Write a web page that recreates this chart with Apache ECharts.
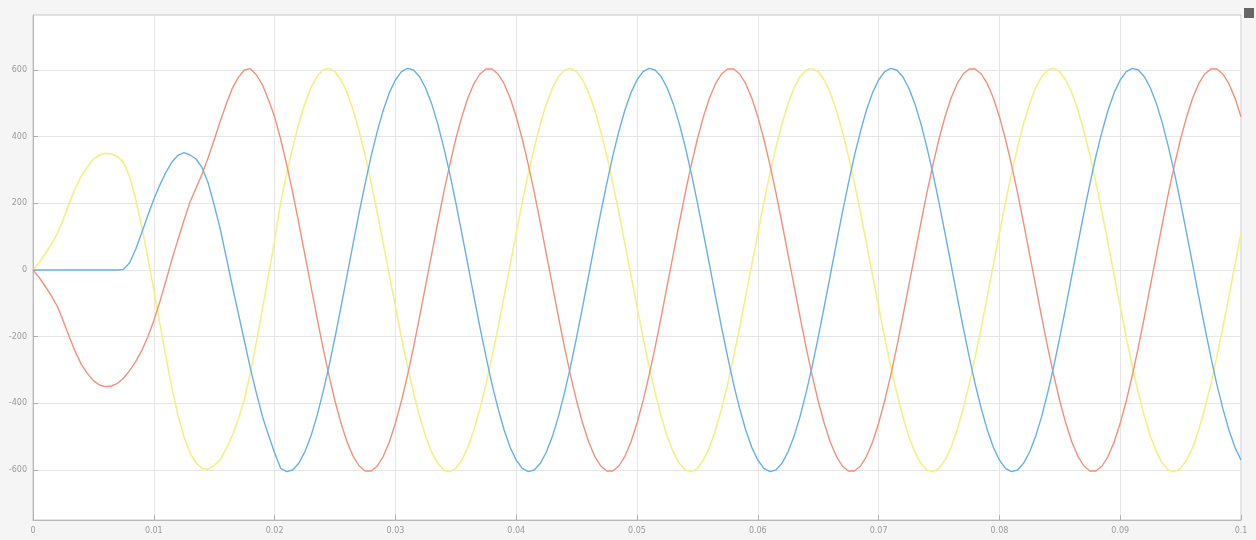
<!DOCTYPE html>
<html>
<head>
<meta charset="utf-8">
<script src="https://cdn.jsdelivr.net/npm/echarts@6/dist/echarts.min.js"></script>
<style>
html,body{margin:0;padding:0;background:#f5f5f5;}
#chart{width:1256px;height:540px;}
</style>
</head>
<body>
<div id="chart"></div>
<script>
const time = [0,0.0005,0.001,0.0015,0.002,0.0025,0.003,0.0035,0.004,0.0045,0.005,0.0055,0.006,0.0065,0.007,0.0075,0.008,0.0085,0.009,0.0095,
0.01,0.0105,0.011,0.0115,0.012,0.0125,0.013,0.0135,0.014,0.0145,0.015,0.0155,0.016,0.0165,0.017,0.0175,0.018,0.0185,0.019,0.0195,
0.02,0.0205,0.021,0.0215,0.022,0.0225,0.023,0.0235,0.024,0.0245,0.025,0.0255,0.026,0.0265,0.027,0.0275,0.028,0.0285,0.029,0.0295,
0.03,0.0305,0.031,0.0315,0.032,0.0325,0.033,0.0335,0.034,0.0345,0.035,0.0355,0.036,0.0365,0.037,0.0375,0.038,0.0385,0.039,0.0395,
0.04,0.0405,0.041,0.0415,0.042,0.0425,0.043,0.0435,0.044,0.0445,0.045,0.0455,0.046,0.0465,0.047,0.0475,0.048,0.0485,0.049,0.0495,
0.05,0.0505,0.051,0.0515,0.052,0.0525,0.053,0.0535,0.054,0.0545,0.055,0.0555,0.056,0.0565,0.057,0.0575,0.058,0.0585,0.059,0.0595,
0.06,0.0605,0.061,0.0615,0.062,0.0625,0.063,0.0635,0.064,0.0645,0.065,0.0655,0.066,0.0665,0.067,0.0675,0.068,0.0685,0.069,0.0695,
0.07,0.0705,0.071,0.0715,0.072,0.0725,0.073,0.0735,0.074,0.0745,0.075,0.0755,0.076,0.0765,0.077,0.0775,0.078,0.0785,0.079,0.0795,
0.08,0.0805,0.081,0.0815,0.082,0.0825,0.083,0.0835,0.084,0.0845,0.085,0.0855,0.086,0.0865,0.087,0.0875,0.088,0.0885,0.089,0.0895,
0.09,0.0905,0.091,0.0915,0.092,0.0925,0.093,0.0935,0.094,0.0945,0.095,0.0955,0.096,0.0965,0.097,0.0975,0.098,0.0985,0.099,0.0995,0.1];

const phaseYellow = [0,22,48,76,108,152,200,245,283,310,332,345,350,348,340,322,280,213,130,38,
-60,-160,-260,-355,-435,-501,-549,-579,-595,-598,-586,-569,-536,-497,-448,-387,-308,-215,-115,-14,88,
202,289,368,439,499,546,580,600,605,595,570,532,480,416,343,260,172,79,-16,-110,-202,-289,-368,-439,-499,-546,-580,-600,-605,-595,-570,-532,-480,-416,-343,-260,-172,-79,16,110,
202,289,368,439,499,546,580,600,605,595,570,532,480,416,343,260,172,79,-16,-110,-202,-289,-368,-439,-499,-546,-580,-600,-605,-595,-570,-532,-480,-416,-343,-260,-172,-79,16,110,
202,289,368,439,499,546,580,600,605,595,570,532,480,416,343,260,172,79,-16,-110,-202,-289,-368,-439,-499,-546,-580,-600,-605,-595,-570,-532,-480,-416,-343,-260,-172,-79,16,110,
202,289,368,439,499,546,580,600,605,595,570,532,480,416,343,260,172,79,-16,-110,-202,-289,-368,-439,-499,-546,-580,-600,-605,-595,-570,-532,-480,-416,-343,-260,-172,-79,16,110];

const phaseRed = [0,-22,-48,-76,-108,-152,-200,-245,-283,-310,-332,-345,-350,-348,-340,-324,-302,-275,-242,-201,
-152,-95,-33,31,91,149,204,246,288,337,391,446,498,545,578,600,604,585,555,510,460,
393,316,232,141,47,-47,-141,-232,-316,-393,-460,-516,-559,-588,-603,-603,-588,-559,-516,-460,-393,-316,-232,-141,-47,47,141,232,316,393,460,516,559,588,603,603,588,559,516,460,
393,316,232,141,47,-47,-141,-232,-316,-393,-460,-516,-559,-588,-603,-603,-588,-559,-516,-460,-393,-316,-232,-141,-47,47,141,232,316,393,460,516,559,588,603,603,588,559,516,460,
393,316,232,141,47,-47,-141,-232,-316,-393,-460,-516,-559,-588,-603,-603,-588,-559,-516,-460,-393,-316,-232,-141,-47,47,141,232,316,393,460,516,559,588,603,603,588,559,516,460,
393,316,232,141,47,-47,-141,-232,-316,-393,-460,-516,-559,-588,-603,-603,-588,-559,-516,-460,-393,-316,-232,-141,-47,47,141,232,316,393,460,516,559,588,603,603,588,559,516,460];

const phaseBlue = [0,0,0,0,0,0,0,0,0,0,0,0,0,0,0,2,22,62,112,163,
212,255,293,324,344,352,345,333,307,261,195,123,38,-48,-130,-213,-296,-370,-440,-496,-548,
-595,-605,-600,-580,-546,-499,-439,-368,-289,-202,-110,-16,79,172,260,343,416,480,532,570,595,605,600,580,546,499,439,368,289,202,110,16,-79,-172,-260,-343,-416,-480,-532,-570,
-595,-605,-600,-580,-546,-499,-439,-368,-289,-202,-110,-16,79,172,260,343,416,480,532,570,595,605,600,580,546,499,439,368,289,202,110,16,-79,-172,-260,-343,-416,-480,-532,-570,
-595,-605,-600,-580,-546,-499,-439,-368,-289,-202,-110,-16,79,172,260,343,416,480,532,570,595,605,600,580,546,499,439,368,289,202,110,16,-79,-172,-260,-343,-416,-480,-532,-570,
-595,-605,-600,-580,-546,-499,-439,-368,-289,-202,-110,-16,79,172,260,343,416,480,532,570,595,605,600,580,546,499,439,368,289,202,110,16,-79,-172,-260,-343,-416,-480,-532,-570];

const yTicks = [-600,-400,-200,0,200,400,600];

function pairs(vals){ return vals.map((v,i)=>[time[i], v]); }

const chart = echarts.init(document.getElementById('chart'), null, {renderer:'canvas'});
chart.setOption({
  animation:false,
  backgroundColor:'#f5f5f5',
  grid:{left:33,right:15,top:15,bottom:20,show:true,backgroundColor:'#ffffff',borderColor:'#c8c8c8',borderWidth:1},
  xAxis:{
    type:'value',min:0,max:0.1,interval:0.01,
    axisLine:{show:true,onZero:false,lineStyle:{color:'#b8b8b8'}},
    axisTick:{show:true,inside:true,length:5,lineStyle:{color:'#b0b0b0'}},
    axisLabel:{color:'#9a9a9a',fontSize:8,fontFamily:'DejaVu Sans',margin:7,formatter:v=>String(+v.toFixed(2))},
    splitLine:{show:true,lineStyle:{color:'#e6e6e6',width:1}}
  },
  yAxis:{
    type:'value',min:-750,max:765,
    axisLine:{show:true,onZero:false,lineStyle:{color:'#b8b8b8'}},
    axisTick:{show:true,inside:true,length:5,customValues:yTicks,lineStyle:{color:'#b0b0b0'}},
    axisLabel:{color:'#9a9a9a',fontSize:8,fontFamily:'DejaVu Sans',margin:6,customValues:yTicks},
    splitLine:{show:true,lineStyle:{color:'#e6e6e6',width:1}}
  },
  series:[
    {name:'c',type:'line',data:pairs(phaseYellow),showSymbol:false,lineStyle:{color:'#f4f084',width:1.6},itemStyle:{color:'#f4f084'}},
    {name:'a',type:'line',data:pairs(phaseRed),showSymbol:false,lineStyle:{color:'#f0917c',width:1.4},itemStyle:{color:'#f0917c'}},
    {name:'b',type:'line',data:pairs(phaseBlue),showSymbol:false,lineStyle:{color:'#68b1e4',width:1.4},itemStyle:{color:'#68b1e4'}}
  ],
  graphic:[
    {type:'rect',left:1244,top:8,shape:{width:10,height:10},style:{fill:'#666666'}}
  ]
});
</script>
</body>
</html>
